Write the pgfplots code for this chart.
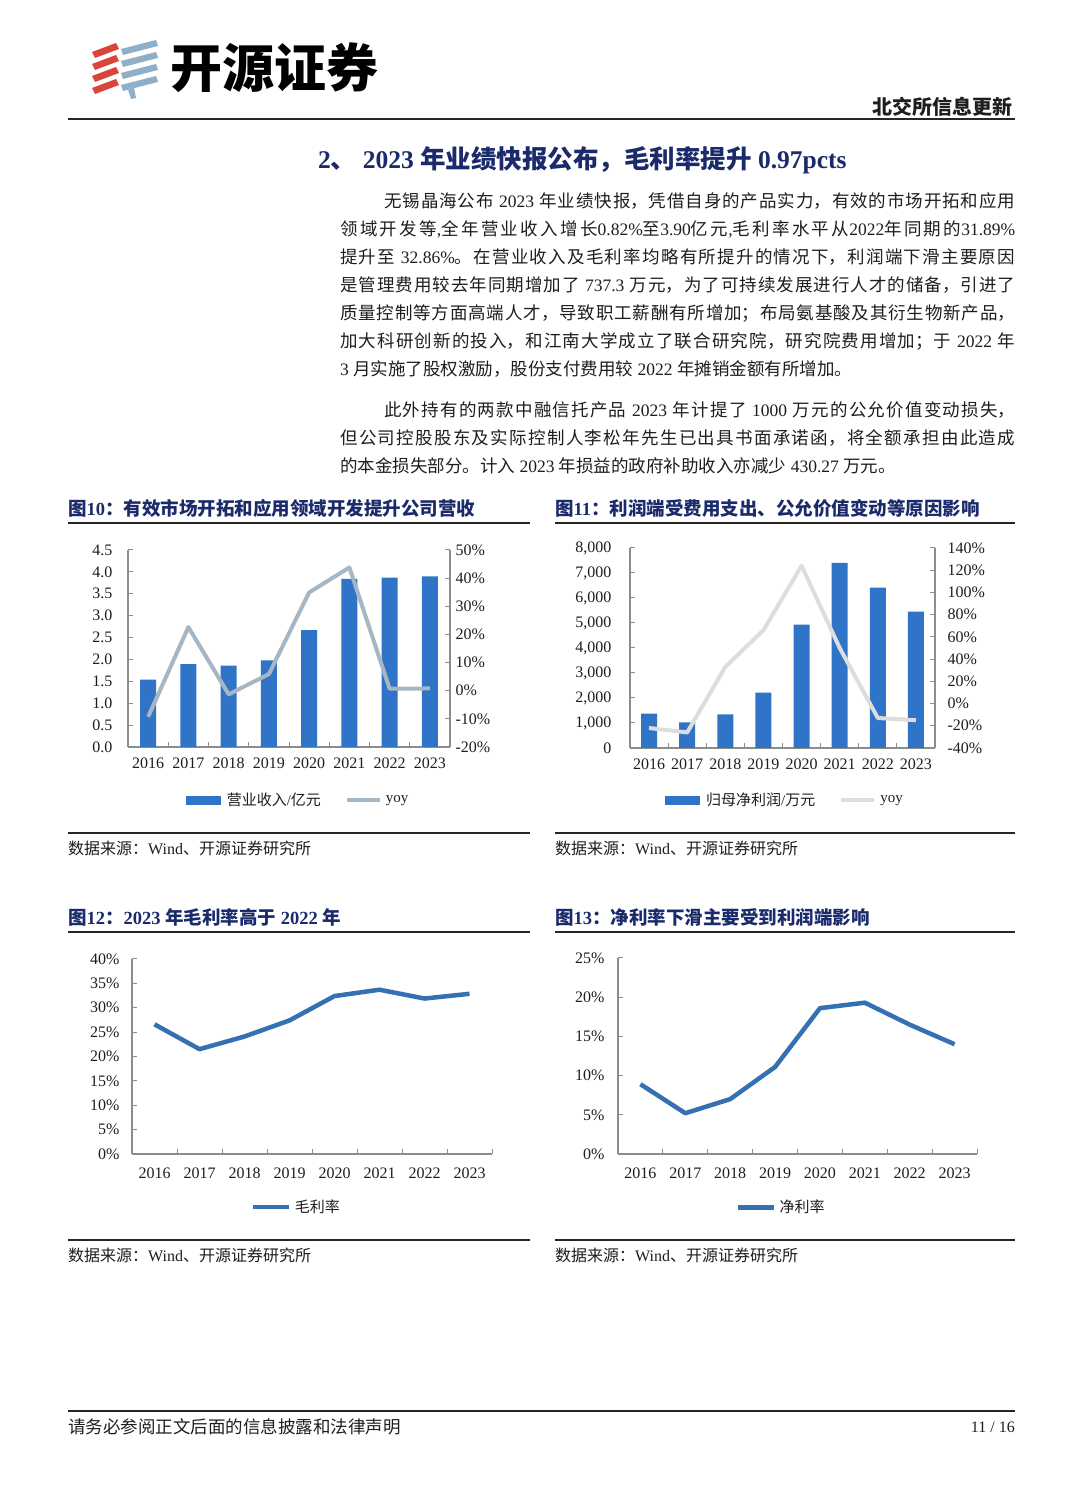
\documentclass[border=0pt]{standalone}
\usepackage{fontspec}
\usepackage{pgfplots}
\pgfplotsset{compat=1.18}
\setmainfont{Liberation Serif}
\newfontfamily\cjk{Noto Sans CJK SC}
\XeTeXinterchartokenstate=1
\newXeTeXintercharclass\CJKclass
\makeatletter
\def\setcjkrange#1#2{\count@=#1\relax\loop\XeTeXcharclass\count@=\CJKclass\ifnum\count@<#2\advance\count@ by 1\repeat}
\makeatother
\setcjkrange{"4E00}{"9FFF}
\setcjkrange{"3000}{"303F}
\setcjkrange{"FF00}{"FFEF}
\XeTeXinterchartoks 0 \CJKclass = {\begingroup\cjk}
\XeTeXinterchartoks 4095 \CJKclass = {\begingroup\cjk}
\XeTeXinterchartoks \CJKclass 0 = {\endgroup}
\XeTeXinterchartoks \CJKclass 4095 = {\endgroup}
\XeTeXlinebreaklocale "zh"
\XeTeXlinebreakskip=0pt plus 2pt

\definecolor{barblue}{HTML}{2F74C6}
\definecolor{yoyA}{HTML}{A5B6C4}
\definecolor{yoyB}{HTML}{DDDDDD}
\definecolor{lineblue}{HTML}{3570B3}
\definecolor{navy}{HTML}{1B2A6B}
\definecolor{axisgray}{HTML}{8C8C8C}
\definecolor{txt}{HTML}{1E1E1E}
\definecolor{logored}{HTML}{D8453B}
\definecolor{logoblue}{HTML}{8FAFC8}

\pgfplotsset{
  pagebase/.style={
    scale only axis, anchor=south west,
    xmin=-0.5, xmax=7.5,
    tick align=inside, major tick length=5pt, minor tick length=5pt,
    axis line style={draw=axisgray, line width=1.1pt},
    tick style={draw=axisgray, line width=1pt},
    tick label style={font=\fontsize{16}{16}\selectfont, text=txt},
    clip=false,
  },
  catx/.style={
    xtick={0,1,2,3,4,5,6,7},
    xticklabels={2016,2017,2018,2019,2020,2021,2022,2023},
    major x tick style={draw=none},
    minor xtick={-0.5,0.5,1.5,2.5,3.5,4.5,5.5,6.5,7.5},
  },
  legbase/.style={
    legend style={draw=none, fill=none, legend columns=2, anchor=center,
      font=\fontsize{15}{15}\selectfont, text=txt,
      /tikz/every even column/.append style={column sep=22pt}},
  },
}

\begin{document}
\begin{tikzpicture}
\useasboundingbox (0,0) rectangle (1080pt,1512pt);
\fill[white] (0,0) rectangle (1080pt,1512pt);

\begin{scope}[x=1pt,y=-1pt,shift={(0pt,1512pt)}]
% logo
\foreach \i in {0,1,2,3}{
  \fill[logored] (92,{52+12*\i}) -- (116,{43+12*\i}) -- (119,{49+12*\i}) -- (95,{58+12*\i}) -- cycle;
  \fill[logoblue] (121,{49+12*\i}) -- (156,{40+12*\i}) -- (158,{46+12*\i}) -- (123,{55+12*\i}) -- cycle;
}
\fill[logoblue] (128,90) -- (134,88) -- (136,98) -- (131,99) -- cycle;
\node[anchor=west, inner sep=0pt, font=\fontsize{52}{52}\selectfont\bfseries, text=black] at (170,68) {开源证券};
\node[anchor=east, inner sep=0pt, font=\fontsize{20}{20}\selectfont\bfseries, text=txt] at (1013,107) {北交所信息更新};
\draw[line width=2.2pt, black!85] (68,119) -- (1015,119);

% title
\node[anchor=west, inner sep=0pt, font=\fontsize{25.5}{25.5}\selectfont\bfseries, text=navy] at (318,160) {2、 2023 年业绩快报公布，毛利率提升 0.97pcts};

% body
\node[anchor=north west, inner sep=0pt, text width=675pt, align=justify, font=\fontsize{17.5}{28}\selectfont, text=txt] at (340,192) {\hspace*{44pt}无锡晶海公布 2023 年业绩快报，凭借自身的产品实力，有效的市场开拓和应用\linebreak
领域开发等,全年营业收入增长0.82\%至3.90亿元,毛利率水平从2022年同期的31.89\%\linebreak
提升至 32.86\%。在营业收入及毛利率均略有所提升的情况下，利润端下滑主要原因\linebreak
是管理费用较去年同期增加了 737.3 万元，为了可持续发展进行人才的储备，引进了\linebreak
质量控制等方面高端人才，导致职工薪酬有所增加；布局氨基酸及其衍生物新产品，\linebreak
加大科研创新的投入，和江南大学成立了联合研究院，研究院费用增加；于 2022 年\linebreak
3 月实施了股权激励，股份支付费用较 2022 年摊销金额有所增加。};

\node[anchor=north west, inner sep=0pt, text width=675pt, align=justify, font=\fontsize{17.5}{28}\selectfont, text=txt] at (340,401) {\hspace*{44pt}此外持有的两款中融信托产品 2023 年计提了 1000 万元的公允价值变动损失，\linebreak
但公司控股股东及实际控制人李松年先生已出具书面承诺函，将全额承担由此造成\linebreak
的本金损失部分。计入 2023 年损益的政府补助收入亦减少 430.27 万元。};

% figure titles and rules
\node[anchor=west, inner sep=0pt, font=\fontsize{18.5}{18.5}\selectfont\bfseries, text=navy] at (68,508) {图10：有效市场开拓和应用领域开发提升公司营收};
\node[anchor=west, inner sep=0pt, font=\fontsize{18.5}{18.5}\selectfont\bfseries, text=navy] at (555,508) {图11：利润端受费用支出、公允价值变动等原因影响};
\node[anchor=west, inner sep=0pt, font=\fontsize{18.5}{18.5}\selectfont\bfseries, text=navy] at (68,917) {图12：2023 年毛利率高于 2022 年};
\node[anchor=west, inner sep=0pt, font=\fontsize{18.5}{18.5}\selectfont\bfseries, text=navy] at (555,917) {图13：净利率下滑主要受到利润端影响};
\draw[line width=1.8pt, black!85] (68,523) -- (530,523);
\draw[line width=1.8pt, black!85] (555,523) -- (1015,523);
\draw[line width=1.8pt, black!85] (68,932) -- (530,932);
\draw[line width=1.8pt, black!85] (555,932) -- (1015,932);
\draw[line width=1.8pt, black!85] (68,833) -- (530,833);
\draw[line width=1.8pt, black!85] (555,833) -- (1015,833);
\draw[line width=1.8pt, black!85] (68,1240) -- (530,1240);
\draw[line width=1.8pt, black!85] (555,1240) -- (1015,1240);
\node[anchor=west, inner sep=0pt, font=\fontsize{16}{16}\selectfont, text=txt] at (68,848) {数据来源：Wind、开源证券研究所};
\node[anchor=west, inner sep=0pt, font=\fontsize{16}{16}\selectfont, text=txt] at (555,848) {数据来源：Wind、开源证券研究所};
\node[anchor=west, inner sep=0pt, font=\fontsize{16}{16}\selectfont, text=txt] at (68,1255) {数据来源：Wind、开源证券研究所};
\node[anchor=west, inner sep=0pt, font=\fontsize{16}{16}\selectfont, text=txt] at (555,1255) {数据来源：Wind、开源证券研究所};

% footer
\draw[line width=2pt, black!85] (68,1411) -- (1015,1411);
\node[anchor=west, inner sep=0pt, font=\fontsize{17.5}{17.5}\selectfont, text=txt] at (68,1427) {请务必参阅正文后面的信息披露和法律声明};
\node[anchor=east, inner sep=0pt, font=\fontsize{16}{16}\selectfont, text=txt] at (1015,1427) {11 / 16};
\end{scope}

% ===== Chart 1 =====
\begin{axis}[pagebase, catx, at={(128pt,765pt)}, width=322pt, height=197pt,
  axis lines*=left, ymin=0, ymax=4.5,
  ytick={0,0.5,1,1.5,2,2.5,3,3.5,4,4.5},
  yticklabels={0.0,0.5,1.0,1.5,2.0,2.5,3.0,3.5,4.0,4.5},
  yticklabel style={xshift=-12pt}, xticklabel style={yshift=-7pt}]
\addplot[ybar, bar width=16pt, fill=barblue, draw=none] coordinates {(0,1.54) (1,1.89) (2,1.86) (3,1.98) (4,2.67) (5,3.84) (6,3.87) (7,3.90)};
\end{axis}
\begin{axis}[pagebase, legbase, at={(128pt,765pt)}, width=322pt, height=197pt,
  axis x line=none, axis y line*=right, xtick=\empty, ymin=-20, ymax=50,
  ytick={-20,-10,0,10,20,30,40,50},
  yticklabels={-20\%,-10\%,0\%,10\%,20\%,30\%,40\%,50\%},
  yticklabel style={xshift=2pt},
  legend style={at={(0.528,-0.27)}}]
\addlegendimage{legend image code/.code={\fill[barblue] (0pt,-4pt) rectangle (34pt,4pt); \path[draw=none,fill=none] (34pt,0pt) rectangle (39pt,0.1pt);}}
\addlegendentry{营业收入/亿元}
\addplot[yoyA, line width=4pt, line join=round, legend image code/.code={\draw[yoyA, line width=4pt] (0pt,0pt) -- (33pt,0pt); \path[draw=none,fill=none] (33pt,0pt) rectangle (37pt,0.1pt);}] coordinates {(0,-9.3) (1,22.6) (2,-1.3) (3,5.9) (4,34.9) (5,43.8) (6,0.7) (7,0.8)};
\addlegendentry{yoy}
\end{axis}

% ===== Chart 2 =====
\begin{axis}[pagebase, catx, at={(630pt,764pt)}, width=305pt, height=200pt,
  axis lines*=left, ymin=0, ymax=8000,
  ytick={0,1000,2000,3000,4000,5000,6000,7000,8000},
  yticklabels={0,{1,000},{2,000},{3,000},{4,000},{5,000},{6,000},{7,000},{8,000}},
  yticklabel style={xshift=-15pt}, xticklabel style={yshift=-7pt}]
\addplot[ybar, bar width=16pt, fill=barblue, draw=none] coordinates {(0,1379) (1,1021) (2,1340) (3,2215) (4,4934) (5,7400) (6,6419) (7,5451)};
\end{axis}
\begin{axis}[pagebase, legbase, at={(630pt,764pt)}, width=305pt, height=200pt,
  axis x line=none, axis y line*=right, xtick=\empty, ymin=-40, ymax=140,
  ytick={-40,-20,0,20,40,60,80,100,120,140},
  yticklabels={-40\%,-20\%,0\%,20\%,40\%,60\%,80\%,100\%,120\%,140\%},
  yticklabel style={xshift=9pt},
  legend style={at={(0.508,-0.26)}}]
\addlegendimage{legend image code/.code={\fill[barblue] (0pt,-4pt) rectangle (34pt,4pt); \path[draw=none,fill=none] (34pt,0pt) rectangle (39pt,0.1pt);}}
\addlegendentry{归母净利润/万元}
\addplot[yoyB, line width=4pt, line join=round, legend image code/.code={\draw[yoyB, line width=4pt] (0pt,0pt) -- (33pt,0pt); \path[draw=none,fill=none] (33pt,0pt) rectangle (37pt,0.1pt);}] coordinates {(0,-22) (1,-26) (2,33) (3,66) (4,124) (5,50) (6,-13) (7,-15)};
\addlegendentry{yoy}
\end{axis}

% ===== Chart 3 =====
\begin{axis}[pagebase, catx, legbase, at={(132pt,358pt)}, width=360pt, height=195pt,
  axis lines*=left, ymin=0, ymax=40,
  ytick={0,5,10,15,20,25,30,35,40},
  yticklabels={0\%,5\%,10\%,15\%,20\%,25\%,30\%,35\%,40\%},
  yticklabel style={xshift=-9pt}, xticklabel style={yshift=-10pt},
  legend style={at={(0.456,-0.272)}}]
\addplot[lineblue, line width=4.5pt, line join=round, legend image code/.code={\draw[lineblue, line width=4.5pt] (0pt,0pt) -- (36pt,0pt); \path[draw=none,fill=none] (36pt,0pt) rectangle (40pt,0.1pt);}] coordinates {(0,26.6) (1,21.5) (2,24.1) (3,27.4) (4,32.4) (5,33.7) (6,31.89) (7,32.86)};
\addlegendentry{毛利率}
\end{axis}

% ===== Chart 4 =====
\begin{axis}[pagebase, catx, legbase, at={(618pt,358pt)}, width=359pt, height=196pt,
  axis lines*=left, ymin=0, ymax=25,
  ytick={0,5,10,15,20,25},
  yticklabels={0\%,5\%,10\%,15\%,20\%,25\%},
  yticklabel style={xshift=-10pt}, xticklabel style={yshift=-10pt},
  legend style={at={(0.454,-0.272)}}]
\addplot[lineblue, line width=4.5pt, line join=round, legend image code/.code={\draw[lineblue, line width=4.5pt] (0pt,0pt) -- (36pt,0pt); \path[draw=none,fill=none] (36pt,0pt) rectangle (40pt,0.1pt);}] coordinates {(0,8.9) (1,5.2) (2,7.0) (3,11.1) (4,18.6) (5,19.3) (6,16.5) (7,14.0)};
\addlegendentry{净利率}
\end{axis}
\end{tikzpicture}
\end{document}
